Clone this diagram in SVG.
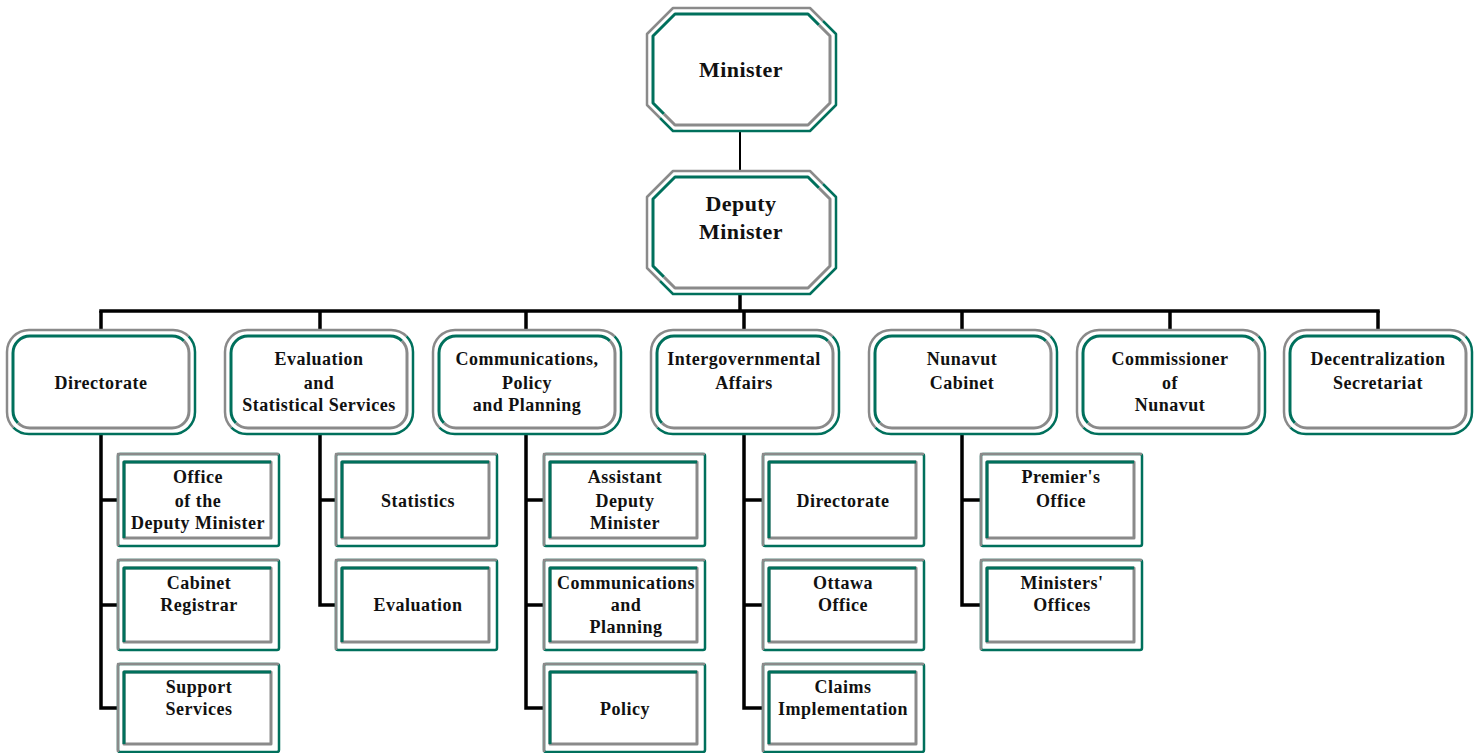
<svg xmlns="http://www.w3.org/2000/svg" xmlns:xlink="http://www.w3.org/1999/xlink" width="1481" height="753" viewBox="0 0 1481 753">
<style>
.g{fill:none;stroke:#8a8a8a;stroke-width:2.5;stroke-linejoin:round}
.t{fill:none;stroke:#00705c;stroke-width:2.5;stroke-linejoin:round}
.ti{fill:none;stroke:#00705c;stroke-width:3;stroke-linejoin:round}
.gi{fill:none;stroke:#8a8a8a;stroke-width:3;stroke-linejoin:round}
.fill{fill:#fff;stroke:none}
.c{fill:none;stroke:#000;stroke-width:3.5;stroke-linecap:butt;stroke-linejoin:miter}
text{font-family:"Liberation Serif","Times New Roman",serif;font-weight:bold;fill:#111;text-anchor:middle}
.l2{font-size:18px;letter-spacing:0.5px}
.l3{font-size:18px;letter-spacing:0.5px}
.l1{font-size:22px;letter-spacing:0.4px}
</style>
<defs>
<g id="oct">
<polygon class="fill" points="26,0 163,0 189,26 189,97 163,123 26,123 0,97 0,26"/>
<polyline class="g" points="13,110 0,97 0,26 26,0 163,0 176,13"/>
<polyline class="t" points="176,13 189,26 189,97 163,123 26,123 13,110"/>
<polyline class="ti" points="17,106 6,95 6,28 28,6 161,6 172,17"/>
<polyline class="gi" points="172,17 183,28 183,95 161,117 28,117 17,106"/>
</g>
<g id="rnd">
<rect class="fill" x="0" y="0" width="188" height="104" rx="22"/>
<path class="g" d="M6.4,97.6 A22,22 0 0 1 0,82 V22 A22,22 0 0 1 22,0 H166 A22,22 0 0 1 181.6,6.4"/>
<path class="t" d="M181.6,6.4 A22,22 0 0 1 188,22 V82 A22,22 0 0 1 166,104 H22 A22,22 0 0 1 6.4,97.6"/>
<path class="ti" d="M11,93 A17,17 0 0 1 6,81 V23 A17,17 0 0 1 23,6 H165 A17,17 0 0 1 177,11"/>
<path class="gi" d="M177,11 A17,17 0 0 1 182,23 V81 A17,17 0 0 1 165,98 H23 A17,17 0 0 1 11,93"/>
</g>
<g id="s92">
<rect class="fill" x="0" y="0" width="161" height="92"/>
<rect class="t" x="0" y="0" width="161" height="92" rx="2"/>
<polyline class="g" points="0,92 0,0 161,0"/>
<rect class="gi" x="6" y="8" width="147" height="76"/>
<polyline class="ti" points="6,84 6,8 153,8"/>
</g>
<g id="s90">
<rect class="fill" x="0" y="0" width="161" height="90"/>
<rect class="t" x="0" y="0" width="161" height="90" rx="2"/>
<polyline class="g" points="0,90 0,0 161,0"/>
<rect class="gi" x="6" y="8" width="147" height="74"/>
<polyline class="ti" points="6,82 6,8 153,8"/>
</g>
<g id="s88">
<rect class="fill" x="0" y="0" width="161" height="88"/>
<rect class="t" x="0" y="0" width="161" height="88" rx="2"/>
<polyline class="g" points="0,88 0,0 161,0"/>
<rect class="gi" x="6" y="8" width="147" height="72"/>
<polyline class="ti" points="6,80 6,8 153,8"/>
</g>
</defs>

<g id="connectors">
<line class="c" x1="740" y1="131" x2="740" y2="170" style="stroke-width:2"/>
<line class="c" x1="740" y1="294" x2="740" y2="311"/>
<line class="c" x1="99.25" y1="311" x2="1379.75" y2="311"/>
<line class="c" x1="101" y1="311" x2="101" y2="331"/>
<line class="c" x1="320" y1="311" x2="320" y2="331"/>
<line class="c" x1="526" y1="311" x2="526" y2="331"/>
<line class="c" x1="744" y1="311" x2="744" y2="331"/>
<line class="c" x1="962" y1="311" x2="962" y2="331"/>
<line class="c" x1="1170" y1="311" x2="1170" y2="331"/>
<line class="c" x1="1378" y1="311" x2="1378" y2="331"/>
<polyline class="c" points="101,433 101,708 118,708"/>
<line class="c" x1="101" y1="500" x2="118" y2="500"/>
<line class="c" x1="101" y1="605" x2="118" y2="605"/>
<polyline class="c" points="320,433 320,605 336,605"/>
<line class="c" x1="320" y1="500" x2="336" y2="500"/>
<polyline class="c" points="526,433 526,708 544,708"/>
<line class="c" x1="526" y1="500" x2="544" y2="500"/>
<line class="c" x1="526" y1="605" x2="544" y2="605"/>
<polyline class="c" points="744,433 744,708 763,708"/>
<line class="c" x1="744" y1="500" x2="763" y2="500"/>
<line class="c" x1="744" y1="605" x2="763" y2="605"/>
<polyline class="c" points="962,433 962,605 981,605"/>
<line class="c" x1="962" y1="500" x2="981" y2="500"/>
</g>

<g id="minister"><use xlink:href="#oct" href="#oct" x="647" y="8"/><text class="l1" x="741" y="77">Minister</text></g>
<g id="deputy-minister"><use xlink:href="#oct" href="#oct" x="647" y="171"/><text class="l1" x="741" y="211">Deputy</text><text class="l1" x="741" y="239">Minister</text></g>

<g id="directorate"><use xlink:href="#rnd" href="#rnd" x="7" y="330"/><text class="l2" x="101" y="389">Directorate</text></g>
<g id="evaluation-statistical"><use xlink:href="#rnd" href="#rnd" x="225" y="330"/><text class="l2" x="319" y="365">Evaluation</text><text class="l2" x="319" y="389">and</text><text class="l2" x="319" y="411">Statistical Services</text></g>
<g id="communications-policy"><use xlink:href="#rnd" href="#rnd" x="433" y="330"/><text class="l2" x="527" y="365">Communications,</text><text class="l2" x="527" y="389">Policy</text><text class="l2" x="527" y="411">and Planning</text></g>
<g id="intergovernmental"><use xlink:href="#rnd" href="#rnd" x="651" y="330"/><text class="l2" x="744" y="365">Intergovernmental</text><text class="l2" x="744" y="389">Affairs</text></g>
<g id="nunavut-cabinet"><use xlink:href="#rnd" href="#rnd" x="869" y="330"/><text class="l2" x="962" y="365">Nunavut</text><text class="l2" x="962" y="389">Cabinet</text></g>
<g id="commissioner"><use xlink:href="#rnd" href="#rnd" x="1077" y="330"/><text class="l2" x="1170" y="365">Commissioner</text><text class="l2" x="1170" y="389">of</text><text class="l2" x="1170" y="411">Nunavut</text></g>
<g id="decentralization"><use xlink:href="#rnd" href="#rnd" x="1284" y="330"/><text class="l2" x="1378" y="365">Decentralization</text><text class="l2" x="1378" y="389">Secretariat</text></g>

<g id="office-dm"><use xlink:href="#s92" href="#s92" x="118" y="454"/><text class="l3" x="198" y="483">Office</text><text class="l3" x="198" y="507">of the</text><text class="l3" x="198" y="529">Deputy Minister</text></g>
<g id="cabinet-registrar"><use xlink:href="#s90" href="#s90" x="118" y="560"/><text class="l3" x="199" y="589">Cabinet</text><text class="l3" x="199" y="611">Registrar</text></g>
<g id="support-services"><use xlink:href="#s88" href="#s88" x="118" y="664"/><text class="l3" x="199" y="693">Support</text><text class="l3" x="199" y="715">Services</text></g>

<g id="statistics"><use xlink:href="#s92" href="#s92" x="336" y="454"/><text class="l3" x="418" y="507">Statistics</text></g>
<g id="evaluation"><use xlink:href="#s90" href="#s90" x="336" y="560"/><text class="l3" x="418" y="611">Evaluation</text></g>

<g id="adm"><use xlink:href="#s92" href="#s92" x="544" y="454"/><text class="l3" x="625" y="483">Assistant</text><text class="l3" x="625" y="507">Deputy</text><text class="l3" x="625" y="529">Minister</text></g>
<g id="comm-planning"><use xlink:href="#s90" href="#s90" x="544" y="560"/><text class="l3" x="626" y="589">Communications</text><text class="l3" x="626" y="611">and</text><text class="l3" x="626" y="633">Planning</text></g>
<g id="policy"><use xlink:href="#s88" href="#s88" x="544" y="664"/><text class="l3" x="625" y="715">Policy</text></g>

<g id="ig-directorate"><use xlink:href="#s92" href="#s92" x="763" y="454"/><text class="l3" x="843" y="507">Directorate</text></g>
<g id="ottawa-office"><use xlink:href="#s90" href="#s90" x="763" y="560"/><text class="l3" x="843" y="589">Ottawa</text><text class="l3" x="843" y="611">Office</text></g>
<g id="claims"><use xlink:href="#s88" href="#s88" x="763" y="664"/><text class="l3" x="843" y="693">Claims</text><text class="l3" x="843" y="715">Implementation</text></g>

<g id="premiers-office"><use xlink:href="#s92" href="#s92" x="981" y="454"/><text class="l3" x="1061" y="483">Premier's</text><text class="l3" x="1061" y="507">Office</text></g>
<g id="ministers-offices"><use xlink:href="#s90" href="#s90" x="981" y="560"/><text class="l3" x="1062" y="589">Ministers'</text><text class="l3" x="1062" y="611">Offices</text></g>
</svg>
